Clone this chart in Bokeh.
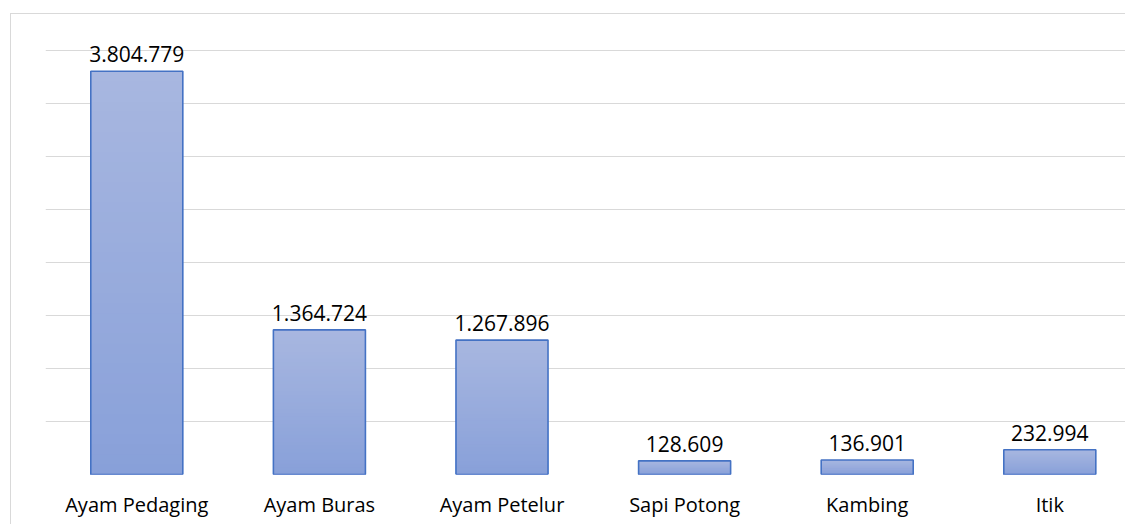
import numpy as np
from bokeh.plotting import figure
from bokeh.models import FixedTicker, Range1d
from bokeh.core.properties import value
from bokeh.embed import file_html
from bokeh.resources import INLINE

categories = ["Ayam Pedaging", "Ayam Buras", "Ayam Petelur", "Sapi Potong", "Kambing", "Itik"]
values = [3804779, 1364724, 1267896, 128609, 136901, 232994]
labels = ["3.804.779", "1.364.724", "1.267.896", "128.609", "136.901", "232.994"]
y_ticks = [0, 500000, 1000000, 1500000, 2000000, 2500000, 3000000, 3500000, 4000000]

x = list(range(len(categories)))
vals = np.array(values, dtype=float)

p = figure(width=1115, height=511, output_backend="svg", toolbar_location=None,
           x_range=Range1d(-0.5, 5.42), y_range=Range1d(0, 4340000),
           min_border_left=34, min_border_right=0, min_border_top=0, min_border_bottom=51)
p.styles = {"margin-left": "10px", "margin-top": "13px",
            "border-left": "1px solid #d9d9d9", "border-top": "1px solid #d9d9d9"}
p.background_fill_color = "white"
p.border_fill_color = "white"
p.outline_line_color = None

# gradient bars (light at top, darker at bottom)
top_c = np.array([0xa8, 0xb7, 0xe0])
bot_c = np.array([0x88, 0xa0, 0xd9])
K = 40
bw = 0.504
for k in range(K):
    frac = (K - k) / K
    t = (K - k - 0.5) / K
    c = bot_c + (top_c - bot_c) * t
    col = "#%02x%02x%02x" % tuple(int(round(v)) for v in c)
    p.vbar(x=x, bottom=0, top=vals * frac, width=bw, fill_color=col, line_color=None)

p.vbar(x=x, bottom=0, top=values, width=bw, fill_color=None,
       line_color="#4472c4", line_width=1.6)

p.text(x=x, y=values, text=labels, text_align="center", text_baseline="alphabetic",
       y_offset=-17, text_font=value("Open Sans"), text_font_size="21px",
       text_color="#000000")

p.xaxis.ticker = FixedTicker(ticks=x)
p.xaxis.major_label_overrides = {i: c for i, c in zip(x, categories)}
p.xaxis.axis_line_color = None
p.xaxis.major_tick_line_color = None
p.xaxis.minor_tick_line_color = None
p.xaxis.major_label_text_font = "Open Sans"
p.xaxis.major_label_text_font_size = "20px"
p.xaxis.major_label_text_color = "#000000"
p.xaxis.major_label_standoff = 10

p.yaxis.visible = False
p.xgrid.grid_line_color = None
p.ygrid.ticker = FixedTicker(ticks=y_ticks)
p.ygrid.grid_line_color = "#d9d9d9"
p.ygrid.grid_line_width = 1.2

open("out.html", "w").write(file_html(p, INLINE))
